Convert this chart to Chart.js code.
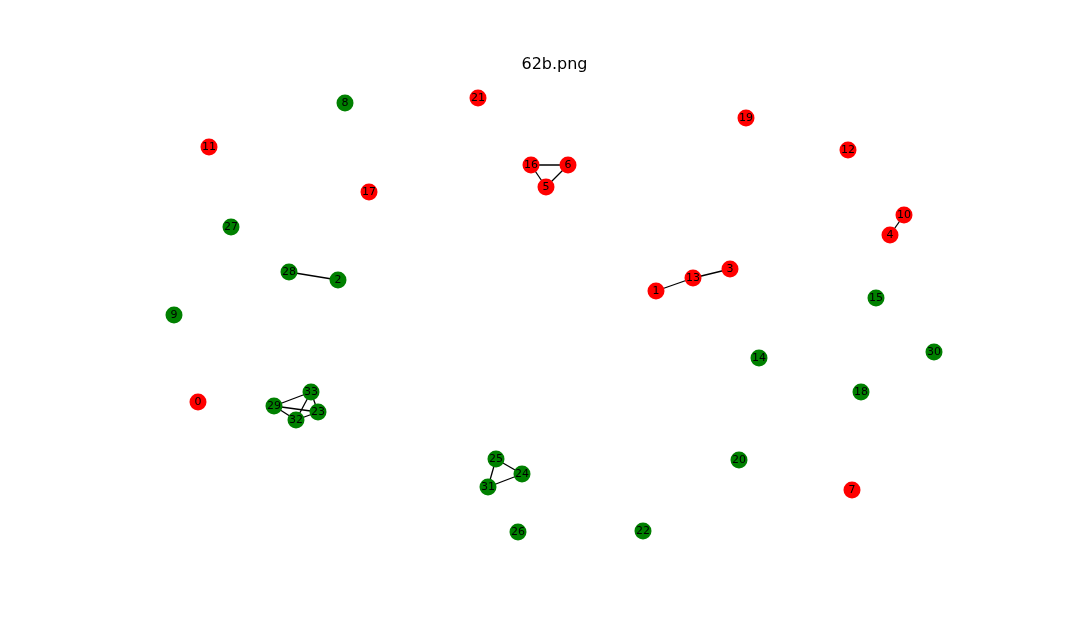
<!DOCTYPE html>
<html>
<head>
<meta charset="utf-8">
<script src="https://cdn.jsdelivr.net/npm/chart.js"></script>
<style>
  html, body { margin: 0; padding: 0; background: #fff; }
  #wrap { width: 1080px; height: 633px; }
</style>
</head>
<body>
<div id="wrap"><canvas id="graph" width="1080" height="633"></canvas></div>
<script>
// node ids, positions and group
const nodeIds = [0, 1, 2, 3, 4, 5, 6, 7, 8, 9, 10, 11, 12, 13, 14, 15, 16,
  17, 18, 19, 20, 21, 22, 23, 24, 25, 26, 27, 28, 29, 30, 31, 32, 33];
const nodeX = [197, 655, 337, 729, 889, 545, 567, 851, 344, 173, 903, 208, 847, 692, 758, 875, 530,
  368, 860, 745, 738, 477, 642, 317, 521, 495, 517, 230, 288, 273, 933, 487, 295, 310];
const nodeY = [401, 290, 279, 268, 234, 186, 164, 489, 102, 314, 214, 146, 149, 277, 357, 297, 164,
  191, 391, 117, 459, 97, 530, 411, 473, 458, 531, 226, 271, 405, 351, 486, 419, 391];
const redNodes = [0, 1, 3, 4, 5, 6, 7, 10, 11, 12, 13, 16, 17, 19, 21];

const edges = [
  [28, 2], [1, 13], [13, 3], [16, 6], [16, 5], [5, 6], [10, 4],
  [25, 24], [25, 31], [31, 24],
  [29, 33], [29, 23], [29, 32], [33, 32], [33, 23], [32, 23]
];

const chartTitle = '62b.png';

const pos = id => ({ x: nodeX[nodeIds.indexOf(id)], y: nodeY[nodeIds.indexOf(id)] });

// edges get a higher order so they are drawn underneath the nodes
const edgeSets = edges.map(([a, b]) => ({
  type: 'line',
  order: 1,
  data: [pos(a), pos(b)],
  borderColor: '#000',
  borderWidth: 1.3,
  pointRadius: 0,
  showLine: true,
  fill: false
}));

const nodeSet = {
  type: 'scatter',
  order: 0,
  data: nodeIds.map(id => pos(id)),
  backgroundColor: nodeIds.map(id => redNodes.includes(id) ? '#ff0000' : '#008000'),
  borderWidth: 0,
  pointRadius: 8.5,
  pointHoverRadius: 8.5
};

const labelPlugin = {
  id: 'nodeLabels',
  afterDatasetsDraw(chart) {
    const ctx = chart.ctx;
    const meta = chart.getDatasetMeta(chart.data.datasets.length - 1);
    ctx.save();
    ctx.fillStyle = '#000';
    ctx.font = '11px "DejaVu Sans"';
    ctx.textAlign = 'center';
    ctx.textBaseline = 'middle';
    meta.data.forEach((pt, i) => {
      ctx.fillText(String(nodeIds[i]), pt.x, pt.y + 0.5);
    });
    // title centred over the plot area
    const area = chart.chartArea;
    ctx.font = '16px "DejaVu Sans"';
    ctx.textBaseline = 'alphabetic';
    ctx.fillText(chartTitle, (area.left + area.right) / 2, 69);
    ctx.restore();
  }
};

new Chart(document.getElementById('graph'), {
  data: { datasets: [...edgeSets, nodeSet] },
  options: {
    responsive: false,
    animation: false,
    layout: { padding: { left: 136, right: 107, top: 77, bottom: 69 } },
    scales: {
      x: { type: 'linear', min: 135, max: 972, display: false },
      y: { type: 'linear', min: 76, max: 563, reverse: true, display: false }
    },
    plugins: {
      legend: { display: false },
      tooltip: { enabled: false },
      title: { display: false }
    }
  },
  plugins: [labelPlugin]
});
</script>
</body>
</html>
